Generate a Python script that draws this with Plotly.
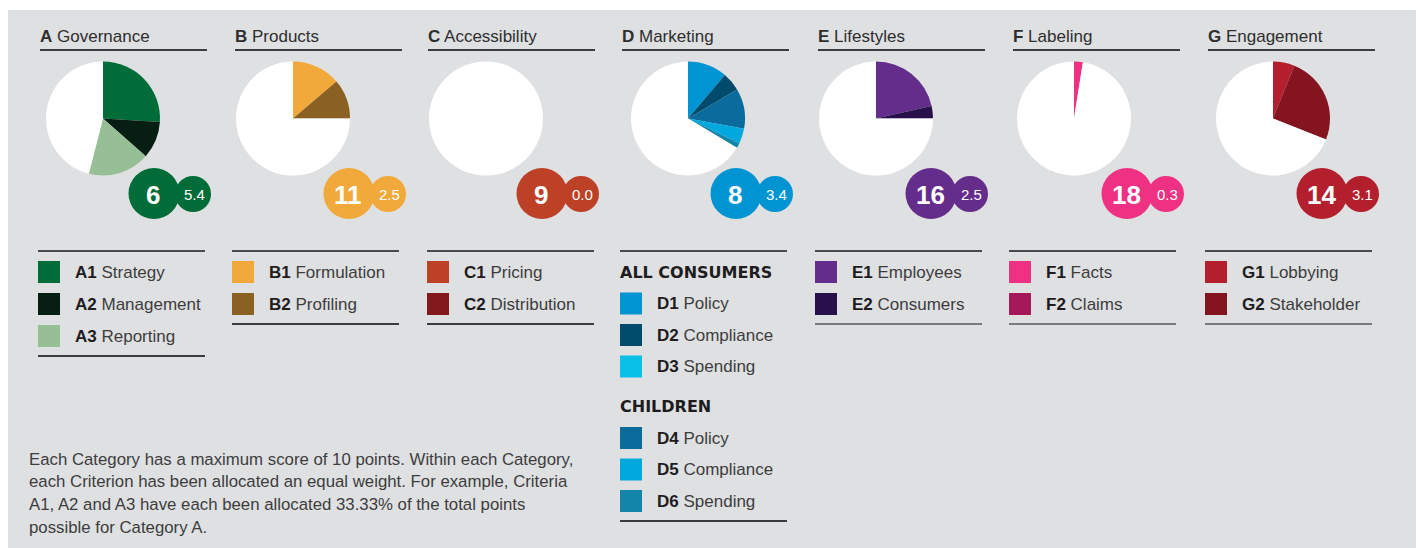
import plotly.graph_objects as go

W, H = 1424, 548
OFF = 8  # page body margin: figure's top-left sits at (8, 8) in the page

# ---------------- data ----------------
cat_letters = ["A", "B", "C", "D", "E", "F", "G"]
cat_titles = ["Governance", "Products", "Accessibility", "Marketing", "Lifestyles", "Labeling", "Engagement"]
cat_ranks = [6, 11, 9, 8, 16, 18, 14]
cat_scores = [5.4, 2.5, 0.0, 3.4, 2.5, 0.3, 3.1]
cat_colors = ["#006c38", "#f2a93b", "#bd4126", "#0094d3", "#652d8b", "#ee3182", "#b41f2e"]

A_codes = ["A1", "A2", "A3"]
A_names = ["Strategy", "Management", "Reporting"]
A_values = [2.6, 1.05, 1.75]
A_colors = ["#006c38", "#061f12", "#96bf96"]

B_codes = ["B1", "B2"]
B_names = ["Formulation", "Profiling"]
B_values = [1.38, 1.12]
B_colors = ["#f2a93b", "#8a6122"]

C_codes = ["C1", "C2"]
C_names = ["Pricing", "Distribution"]
C_values = [0.0, 0.0]
C_colors = ["#bd4126", "#84191d"]

D_codes = ["D1", "D2", "D3", "D4", "D5", "D6"]
D_names = ["Policy", "Compliance", "Spending", "Policy", "Compliance", "Spending"]
D_values = [1.12, 0.53, 0.0, 1.14, 0.43, 0.14]
D_colors = ["#0094d3", "#004a6c", "#0abfe8", "#0b6b9c", "#00a9dd", "#1385a8"]
D_groups = ["ALL CONSUMERS", "CHILDREN"]

E_codes = ["E1", "E2"]
E_names = ["Employees", "Consumers"]
E_values = [2.15, 0.35]
E_colors = ["#652d8b", "#28104a"]

F_codes = ["F1", "F2"]
F_names = ["Facts", "Claims"]
F_values = [0.25, 0.0]
F_colors = ["#ee3182", "#a5195b"]

G_codes = ["G1", "G2"]
G_names = ["Lobbying", "Stakeholder"]
G_values = [0.61, 2.49]
G_colors = ["#b41f2e", "#84141f"]

max_score = 10

note_lines = [
    "Each Category has a maximum score of 10 points. Within each Category,",
    "each Criterion has been allocated an equal weight. For example, Criteria",
    "A1, A2 and A3 have each been allocated 33.33% of the total points",
    "possible for Category A.",
]

criteria = [
    (A_codes, A_names, A_values, A_colors),
    (B_codes, B_names, B_values, B_colors),
    (C_codes, C_names, C_values, C_colors),
    (D_codes, D_names, D_values, D_colors),
    (E_codes, E_names, E_values, E_colors),
    (F_codes, F_names, F_values, F_colors),
    (G_codes, G_names, G_values, G_colors),
]

# ---------------- layout geometry (page pixels) ----------------
col_left = [40, 235, 428, 622, 818, 1013, 1208]
leg_left = [38, 232, 427, 620, 815, 1009, 1205]
pie_cx = [103, 293, 486, 688, 876, 1074, 1273]
pie_cy = 118.5
pie_r = 57
badge_dx_big = [51, 56, 56, 48, 55, 53, 49]
col_w = 167

FONT = "Liberation Sans"
HEAD_FONT = "DejaVu Sans"
DARK = "#1e1c1d"
TXT = "#3d3d3d"

fig = go.Figure()

fig.add_trace(go.Scatter(x=[OFF, OFF + W], y=[OFF, OFF + H], mode="markers",
                         marker=dict(opacity=0), hoverinfo="skip", showlegend=False))

shapes = []
annotations = []

# grey card
shapes.append(dict(type="rect", x0=5, x1=1418, y0=10, y1=H + 20, layer="below",
                   fillcolor="#dfe0e2", line=dict(width=0)))

def px_dom_x(a, b):
    return [(a - OFF) / W, (b - OFF) / W]

def px_dom_y(a, b):
    return [1 - (b - OFF) / H, 1 - (a - OFF) / H]

for i, letter in enumerate(cat_letters):
    codes, names, values, colors = criteria[i]
    cx = pie_cx[i]
    rest = max(max_score - sum(values), 0)
    fig.add_trace(go.Pie(
        values=list(values) + [rest],
        labels=list(codes) + ["rest"],
        marker=dict(colors=list(colors) + ["#ffffff"], line=dict(width=0)),
        sort=False, direction="clockwise", rotation=0,
        textinfo="none", hoverinfo="label+value", showlegend=False,
        domain=dict(x=px_dom_x(cx - pie_r, cx + pie_r),
                    y=px_dom_y(pie_cy - pie_r, pie_cy + pie_r)),
    ))

    # title + underline
    x0 = col_left[i]
    annotations.append(dict(x=x0 - 2, y=36, xref="x", yref="y", xanchor="left", yanchor="middle",
                            text=f"<b>{letter}</b> {cat_titles[i]}", showarrow=False,
                            font=dict(family=FONT, size=17, color="#2e2e2e")))
    shapes.append(dict(type="line", x0=x0, x1=x0 + col_w, y0=50, y1=50,
                       line=dict(color="#3b3b3b", width=2)))

    # badges
    bx = cx + badge_dx_big[i]
    by = 193.5
    sx = bx + 39
    col = cat_colors[i]
    shapes.append(dict(type="circle", x0=bx - 25.5, x1=bx + 25.5, y0=by - 25.5, y1=by + 25.5,
                       fillcolor=col, line=dict(width=0)))
    shapes.append(dict(type="circle", x0=sx - 18, x1=sx + 18, y0=by + 0.5 - 18, y1=by + 0.5 + 18,
                       fillcolor=col, line=dict(width=0)))
    annotations.append(dict(x=bx - 1, y=by + 1, xref="x", yref="y", xanchor="center", yanchor="middle",
                            text=f"<b>{cat_ranks[i]}</b>", showarrow=False,
                            font=dict(family=FONT, size=26, color="white")))
    annotations.append(dict(x=sx + 1, y=by + 1, xref="x", yref="y", xanchor="center", yanchor="middle",
                            text=f"{cat_scores[i]:.1f}", showarrow=False,
                            font=dict(family=FONT, size=15, color="white")))

    # legend
    lx = leg_left[i]
    top = 251
    bottom_color = "#3b3b3b" if i < 4 else "#7a7a7a"
    shapes.append(dict(type="line", x0=lx, x1=lx + col_w, y0=top, y1=top,
                       line=dict(color="#4a4a4a", width=2)))
    rows = []
    if letter == "D":
        y = 272
        rows.append(("header", D_groups[0], y))
        for k in range(3):
            y += 31.5
            rows.append(("item", k, y))
        y += 40
        rows.append(("header", D_groups[1], y))
        for k in range(3, 6):
            y += 31.5
            rows.append(("item", k, y))
    else:
        for k in range(len(codes)):
            rows.append(("item", k, 272 + 32 * k))
    last_y = rows[-1][2]
    for kind, v, y in rows:
        if kind == "header":
            annotations.append(dict(x=lx - 2, y=y, xref="x", yref="y", xanchor="left", yanchor="middle",
                                    text=f"<b>{v}</b>", showarrow=False,
                                    font=dict(family=HEAD_FONT, size=16, color=DARK)))
        else:
            shapes.append(dict(type="rect", x0=lx, x1=lx + 22, y0=y - 11, y1=y + 11,
                               fillcolor=colors[v], line=dict(width=0)))
            annotations.append(dict(x=lx + 35, y=y, xref="x", yref="y", xanchor="left", yanchor="middle",
                                    text=f"<b>{codes[v]}</b> <span style='color:{TXT}'>{names[v]}</span>",
                                    showarrow=False,
                                    font=dict(family=FONT, size=17, color=DARK)))
    shapes.append(dict(type="line", x0=lx, x1=lx + col_w, y0=last_y + 20, y1=last_y + 20,
                       line=dict(color=bottom_color, width=2)))

# note
for j, line in enumerate(note_lines):
    annotations.append(dict(x=27, y=459 + 22.7 * j, xref="x", yref="y", xanchor="left", yanchor="middle",
                            text=line, showarrow=False,
                            font=dict(family=FONT, size=16.8, color=TXT)))

fig.update_layout(
    width=W, height=H, margin=dict(l=0, r=0, t=0, b=0),
    paper_bgcolor="white", plot_bgcolor="rgba(0,0,0,0)",
    xaxis=dict(range=[OFF, OFF + W], visible=False, fixedrange=True),
    yaxis=dict(range=[OFF + H, OFF], visible=False, fixedrange=True),
    shapes=shapes, annotations=annotations, showlegend=False,
)

fig.write_html("out.html")
